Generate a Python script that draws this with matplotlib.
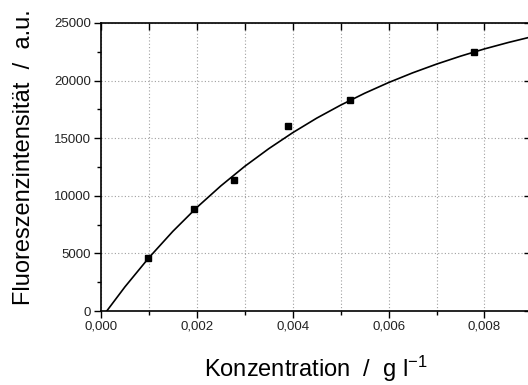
import matplotlib
matplotlib.use("Agg")
import matplotlib.pyplot as plt
from matplotlib.ticker import MultipleLocator, FuncFormatter

plt.rcParams['font.family'] = ['Liberation Sans', 'DejaVu Sans']
plt.rcParams['mathtext.default'] = 'regular'

# measured points
conc = [0.00097, 0.00195, 0.00277, 0.00390, 0.00520, 0.00779]
intensity = [4580, 8870, 11390, 16060, 18320, 22490]

# fit curve
fit_conc = [0.00012, 0.0005, 0.001, 0.0015, 0.002, 0.0025, 0.003, 0.0035, 0.004,
            0.0045, 0.005, 0.0055, 0.006, 0.0065, 0.007, 0.0075, 0.008, 0.0085, 0.009]
fit_int = [0, 2100, 4630, 6920, 8990, 10860, 12560, 14090, 15480,
           16740, 17870, 18900, 19830, 20670, 21430, 22120, 22750, 23310, 23820]

fig = plt.figure(figsize=(5.28, 3.85), dpi=100)
ax = fig.add_axes([0.1913, 0.1922, 0.8125, 0.7481])

ax.plot(fit_conc, fit_int, color='black', lw=1.2, zorder=3)
ax.plot(conc, intensity, 's', color='black', ms=5, zorder=4)

ax.set_xlim(0, 0.00895)
ax.set_ylim(0, 25000)

ax.xaxis.set_major_locator(MultipleLocator(0.002))
ax.xaxis.set_minor_locator(MultipleLocator(0.001))
ax.yaxis.set_major_locator(MultipleLocator(5000))
ax.yaxis.set_minor_locator(MultipleLocator(2500))
ax.xaxis.set_major_formatter(FuncFormatter(lambda v, p: ('%.3f' % v).replace('.', ',')))

ax.grid(True, which='major', axis='y', color='#a0a0a0', ls=(0, (1, 2)), lw=0.8)
ax.grid(True, which='both', axis='x', color='#a0a0a0', ls=(0, (1, 2)), lw=0.8)
ax.set_axisbelow(True)

for s in ax.spines.values():
    s.set_linewidth(1.2)

ax.tick_params(axis='both', which='major', direction='out', length=5, width=1,
               labelsize=9.5, pad=2, labelcolor='#222222')
ax.tick_params(axis='both', which='minor', direction='out', length=3, width=1)
# inward ticks on the top and right frame
ax.tick_params(axis='x', which='both', top=True, labeltop=False)
ax.tick_params(axis='y', which='major', right=True, labelright=False)
for t in ax.xaxis.get_major_ticks() + ax.xaxis.get_minor_ticks():
    t.tick2line.set_marker(3)
    t.tick2line.set_markersize(5)
for t in ax.yaxis.get_major_ticks():
    t.tick2line.set_marker(0)
    t.tick2line.set_markersize(4)

ax.set_xlabel('Konzentration  /  g l$^{-1}$', fontsize=17, labelpad=15)
ax.set_ylabel('Fluoreszenzintensität  /  a.u.', fontsize=17)
ax.yaxis.set_label_coords(-0.154, 0.535)

fig.savefig('out.png', dpi=100)
